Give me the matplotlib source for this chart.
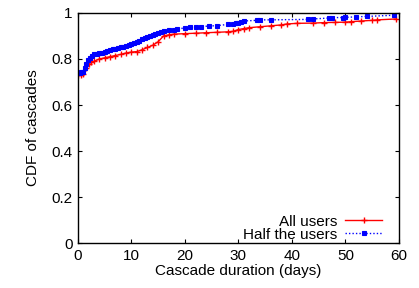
import numpy as np
import matplotlib.pyplot as plt

plt.rcParams['font.family'] = ['Liberation Sans', 'DejaVu Sans']

# cascade duration (days) and CDF values
all_days = [0, 0.5, 1, 1.5, 2, 2.5, 3, 4, 5, 6, 7, 8, 9, 10, 11, 12, 13, 14,
            15, 16, 17, 18, 20, 22, 24, 26, 28, 29, 30, 31, 32, 34, 36, 38,
            39, 41, 44, 46, 48, 50, 51, 53, 55, 56, 59.5]
all_cdf = [0.73, 0.73, 0.735, 0.76, 0.78, 0.785, 0.79, 0.80, 0.805, 0.81,
           0.815, 0.82, 0.826, 0.83, 0.832, 0.84, 0.85, 0.86, 0.875, 0.90,
           0.905, 0.908, 0.91, 0.912, 0.914, 0.916, 0.918, 0.92, 0.928,
           0.932, 0.936, 0.94, 0.944, 0.948, 0.952, 0.955, 0.956, 0.958,
           0.959, 0.96, 0.962, 0.965, 0.968, 0.97, 0.974]

half_days = [0, 0.3, 0.6, 1, 1.3, 1.6, 1.9, 2.2, 2.6, 3, 3.5, 4, 4.5, 5, 5.5,
             6, 6.5, 7, 7.5, 8, 8.5, 9, 9.5, 10, 10.5, 11, 11.5, 12, 12.5, 13,
             13.5, 14, 14.5, 15, 15.5, 16, 17, 18, 18.5, 20, 21, 22, 23, 24.5,
             26, 28, 29, 29.5, 30, 30.5, 31, 33.5, 34, 36, 43, 44, 47, 47.5,
             49.5, 50, 52, 54, 59]
half_cdf = [0.74, 0.74, 0.742, 0.745, 0.76, 0.78, 0.796, 0.805, 0.812, 0.82,
            0.822, 0.825, 0.828, 0.83, 0.835, 0.838, 0.842, 0.845, 0.848,
            0.85, 0.852, 0.855, 0.86, 0.865, 0.87, 0.875, 0.88, 0.885, 0.89,
            0.895, 0.9, 0.905, 0.91, 0.915, 0.918, 0.922, 0.925, 0.928, 0.93,
            0.935, 0.938, 0.94, 0.941, 0.943, 0.945, 0.95, 0.952, 0.955,
            0.958, 0.962, 0.965, 0.968, 0.97, 0.97, 0.972, 0.974, 0.978,
            0.98, 0.98, 0.981, 0.983, 0.985, 0.99]

fs = 11

fig = plt.figure(figsize=(4.19, 2.88), dpi=100)
ax = fig.add_axes([0.186, 0.156, 0.766, 0.799])

ax.plot(all_days, all_cdf, color='#ff0000', lw=1, marker='+', ms=4.5,
        mew=1, label='All users')
ax.plot(half_days, half_cdf, color='#0000ff', lw=1, ls=(0, (1, 1.5)),
        marker='s', ms=3.5, mew=0.8, label='Half the users')

ax.set_xlim(0, 60)
ax.set_ylim(0, 1)
ax.set_xticks(np.arange(0, 61, 10))
ax.set_yticks([0, 0.2, 0.4, 0.6, 0.8, 1])
ax.set_yticklabels(['0', '0.2', '0.4', '0.6', '0.8', '1'])
ax.tick_params(direction='in', top=True, right=True, labelsize=fs,
               length=3, width=0.8, pad=4)
for s in ax.spines.values():
    s.set_linewidth(1)

ax.set_xlabel('Cascade duration (days)', fontsize=fs, labelpad=1)
ax.set_ylabel('CDF of cascades', fontsize=fs, labelpad=8)

ax.legend(loc='lower right', frameon=False, fontsize=fs, markerfirst=False,
          handlelength=2.4, borderaxespad=0, borderpad=0.1,
          labelspacing=-0.07, handletextpad=0.5,
          bbox_to_anchor=(0.952, 0.0))

fig.savefig('out.png', dpi=100)
